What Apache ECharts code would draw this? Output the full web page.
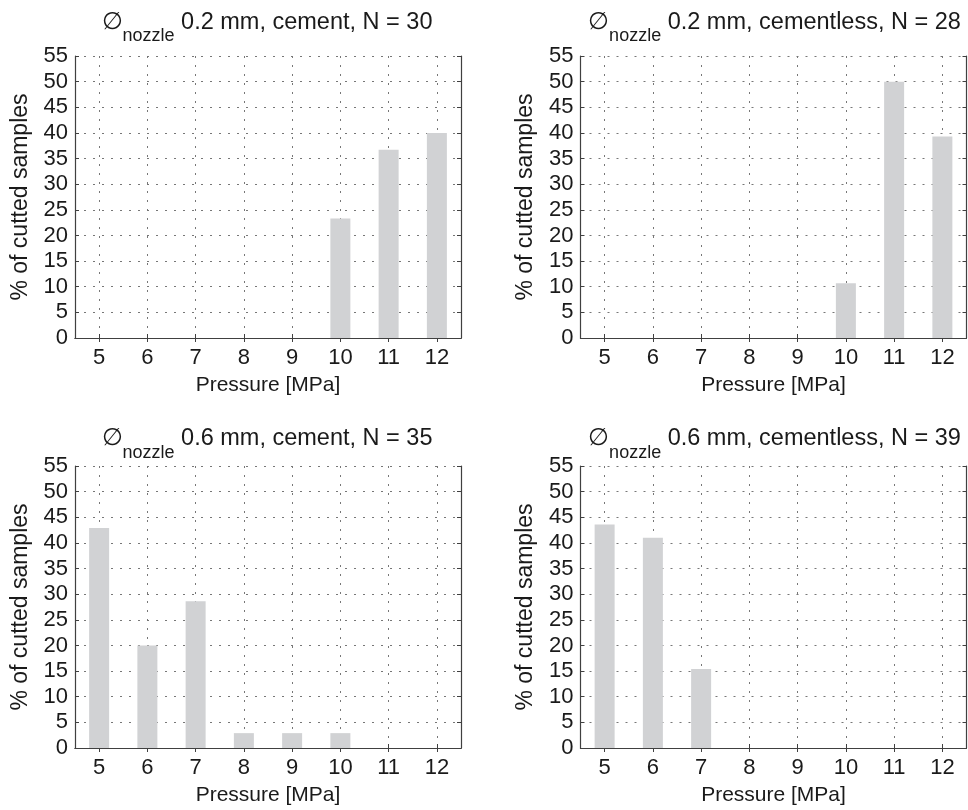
<!DOCTYPE html>
<html>
<head>
<meta charset="utf-8">
<script src="https://cdn.jsdelivr.net/npm/echarts@6/dist/echarts.min.js"></script>
<style>html,body{margin:0;padding:0;background:#fff}#c{width:968px;height:810px}</style>
</head>
<body>
<div id="c"></div>
<script>
// Pressure categories [MPa]
const categories = ['5', '6', '7', '8', '9', '10', '11', '12'];
// % of cutted samples per panel
const cement02 = [0, 0, 0, 0, 0, 23.3, 36.7, 40.0];
const cementless02 = [0, 0, 0, 0, 0, 10.7, 50.0, 39.3];
const cement06 = [42.9, 20.0, 28.6, 2.9, 2.9, 2.9, 0, 0];
const cementless06 = [43.6, 41.0, 15.4, 0, 0, 0, 0, 0];
// Panel titles (diameter, material, N)
const nozzle = ['0.2', '0.2', '0.6', '0.6'];
const material = ['cement', 'cementless', 'cement', 'cementless'];
const counts = [30, 28, 35, 39];
const yMin = 0, yMax = 55, yStep = 5;
const xName = 'Pressure [MPa]';
const yName = '% of cutted samples';

const seriesData = [cement02, cementless02, cement06, cementless06];
const FONT = 'Liberation Sans, Arial, Helvetica, sans-serif';
const TXT = '#1a1a1a';
const AX = '#404040';

const panels = [
  {left: 75, top: 56, titleTop: 5.5, titleDx: -6},
  {left: 580.5, top: 56, titleTop: 5.5, titleDx: -4},
  {left: 75, top: 466, titleTop: 422, titleDx: -6},
  {left: 580.5, top: 466, titleTop: 422, titleDx: -4}
];
const W = 386, H = 282;

const grid = [], xAxis = [], yAxis = [], series = [], title = [];
panels.forEach((p, i) => {
  grid.push({left: p.left, top: p.top, width: W, height: H, show: false});
  title.push({
    text: '{m|\u2205}{s|nozzle}{m| ' + nozzle[i] + ' mm, ' + material[i] + ', N = ' + counts[i] + '}',
    left: p.left + W / 2 + p.titleDx,
    top: p.titleTop,
    textAlign: 'center',
    textStyle: {
      fontWeight: 'normal',
      rich: {
        m: {fontFamily: FONT, fontSize: 23.5, fontWeight: 'normal', color: TXT, lineHeight: 23, verticalAlign: 'top'},
        s: {fontFamily: FONT, fontSize: 18, fontWeight: 'normal', color: TXT, lineHeight: 18, verticalAlign: 'top', padding: [17, 0, 0, 0]}
      }
    }
  });
  // bottom category axis
  xAxis.push({
    gridIndex: i, type: 'category', data: categories, position: 'bottom',
    boundaryGap: true,
    name: xName, nameLocation: 'middle', nameGap: 37,
    nameTextStyle: {fontFamily: FONT, fontSize: 21, color: TXT},
    axisLine: {show: true, lineStyle: {color: AX, width: 1.2}},
    axisTick: {show: true, inside: true, length: 4, alignWithLabel: true, lineStyle: {color: AX}},
    axisLabel: {fontFamily: FONT, fontSize: 22, color: TXT, margin: 9},
    splitLine: {show: true, alignWithLabel: true, lineStyle: {color: '#777', width: 1, type: [2, 7]}}
  });
  // top mirror axis (ticks only)
  xAxis.push({
    gridIndex: i, type: 'category', data: categories, position: 'top',
    boundaryGap: true,
    axisLine: {show: true, lineStyle: {color: AX, width: 1.2}},
    axisTick: {show: true, inside: true, length: 4, alignWithLabel: true, lineStyle: {color: AX}},
    axisLabel: {show: false},
    splitLine: {show: false}
  });
  yAxis.push({
    gridIndex: i, type: 'value', min: yMin, max: yMax, interval: yStep, position: 'left',
    name: yName, nameLocation: 'middle', nameGap: 43,
    nameTextStyle: {fontFamily: FONT, fontSize: 23, color: TXT},
    axisLine: {show: true, lineStyle: {color: AX, width: 1.2}},
    axisTick: {show: true, inside: true, length: 4, lineStyle: {color: AX}},
    axisLabel: {fontFamily: FONT, fontSize: 22, color: TXT, margin: 7},
    splitLine: {show: true, lineStyle: {color: '#777', width: 1, type: [2, 7]}}
  });
  yAxis.push({
    gridIndex: i, type: 'value', min: yMin, max: yMax, interval: yStep, position: 'right',
    axisLine: {show: true, lineStyle: {color: AX, width: 1.2}},
    axisTick: {show: true, inside: true, length: 4, lineStyle: {color: AX}},
    axisLabel: {show: false},
    splitLine: {show: false}
  });
  series.push({
    type: 'bar', xAxisIndex: 2 * i, yAxisIndex: 2 * i,
    data: seriesData[i], barWidth: 20, z: 3,
    itemStyle: {color: '#d1d2d4'},
    silent: true
  });
});

const chart = echarts.init(document.getElementById('c'), null, {renderer: 'canvas'});
chart.setOption({
  animation: false,
  backgroundColor: '#fff',
  title: title,
  grid: grid,
  xAxis: xAxis,
  yAxis: yAxis,
  series: series
});
</script>
</body>
</html>
